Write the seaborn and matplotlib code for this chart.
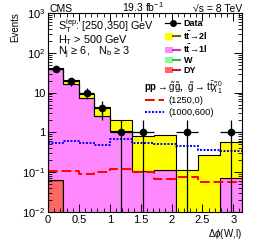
import numpy as np
import pandas as pd
import seaborn as sns
import matplotlib
matplotlib.use("Agg")
import matplotlib.pyplot as plt
from matplotlib.patches import Patch
from matplotlib.lines import Line2D
from matplotlib.legend_handler import HandlerTuple
from matplotlib.ticker import FixedLocator, LogLocator, NullFormatter, MultipleLocator

# === data ===
bin_edges = [0.0, 0.25, 0.5, 0.75, 1.0, 1.357, 1.714, 2.071, 2.428, 2.785, 3.1416]
n_data = [39, 19, 10, 4, 1, 1, 0, 1, 0, 1]
tt2l = [2.0, 4.3, 1.9, 1.7, 0.9, 0.72, 0.75, 0.11, 0.27, 0.49]
tt1l = [39.9, 16.4, 7.2, 2.6, 1.1, 0.105, 0.11, 0.0, 0.0, 0.07]
wjets = [0.0, 0.0, 0.0, 0.0, 0.0, 0.0, 0.0, 0.0, 0.0, 0.0]
dy = [0.065, 0.0, 0.0, 0.0, 0.0, 0.0, 0.0, 0.0, 0.0, 0.0]
sig_1250_0 = [0.105, 0.105, 0.09, 0.1, 0.118, 0.098, 0.066, 0.077, 0.058, 0.055]
sig_1000_600 = [0.54, 0.6, 0.54, 0.49, 0.69, 0.55, 0.5, 0.46, 0.37, 0.34]

processes = ["tt2l", "tt1l", "W", "DY"]
labels = {"tt2l": r"$\mathbf{t\bar{t}\!\rightarrow\!2l}$",
          "tt1l": r"$\mathbf{t\bar{t}\!\rightarrow\!1l}$",
          "W": "W", "DY": "DY"}
fill_colors = {"tt2l": "#ffff00", "tt1l": "#ff88ff", "W": "#88ff88", "DY": "#ff6666"}
line_colors = {"tt2l": "#6b6b00", "tt1l": "#b040b0", "W": "#40b040", "DY": "#c02020"}

edges = np.array(bin_edges)
centers = 0.5 * (edges[1:] + edges[:-1])
halfw = 0.5 * (edges[1:] - edges[:-1])

bkg = pd.DataFrame({
    "dphi": np.tile(centers, 4),
    "events": np.concatenate([tt2l, tt1l, wjets, dy]),
    "process": np.repeat(processes, len(centers)),
})

plt.rcParams["font.family"] = ["Liberation Sans", "DejaVu Sans"]
plt.rcParams["mathtext.fontset"] = "custom"
plt.rcParams["mathtext.rm"] = "Liberation Sans"
plt.rcParams["mathtext.it"] = "Liberation Sans:italic"
plt.rcParams["mathtext.bf"] = "Liberation Sans:bold"

fig = plt.figure(figsize=(2.58, 2.45), dpi=100)
ax = fig.add_axes([0.186, 0.135, 0.752, 0.812])
ax.set_yscale("log")

# stacked backgrounds (first hue level ends up on top)
sns.histplot(data=bkg, x="dphi", weights="events", hue="process",
             hue_order=processes, bins=bin_edges, multiple="stack",
             element="step", palette=fill_colors, alpha=1,
             edgecolor="black", linewidth=0.8, legend=False, ax=ax)

# signal points
sig = pd.DataFrame({"dphi": centers, "a": sig_1250_0, "b": sig_1000_600})
sns.histplot(data=sig, x="dphi", weights="a", bins=bin_edges, element="step",
             fill=False, color="red", linewidth=1.4, linestyle=(0, (5, 2)), ax=ax)
sns.histplot(data=sig, x="dphi", weights="b", bins=bin_edges, element="step",
             fill=False, color="blue", linewidth=1.4, linestyle=(0, (1, 0.8)), ax=ax)

# data
nd = np.array(n_data, dtype=float)
mask = nd > 0
ax.errorbar(centers[mask], nd[mask], xerr=halfw[mask], yerr=np.sqrt(nd[mask]),
            fmt="o", color="black", ms=4.5, lw=0.9, capsize=0)

ax.set_xlim(0, np.pi)
ax.set_ylim(1e-2, 1e3)
ax.set_xlabel("")
ax.set_ylabel("")
ax.xaxis.set_minor_locator(MultipleLocator(0.1))
ax.set_xticks([0, 0.5, 1, 1.5, 2, 2.5, 3])
ax.set_xticklabels(["0", "0.5", "1", "1.5", "2", "2.5", "3"])
ax.yaxis.set_major_locator(FixedLocator([1e-2, 1e-1, 1, 10, 1e2, 1e3]))
ax.set_yticklabels([r"$10^{-2}$", r"$10^{-1}$", "1", "10", r"$10^{2}$", r"$10^{3}$"])
ax.yaxis.set_minor_locator(LogLocator(base=10, subs=np.arange(2, 10)))
ax.yaxis.set_minor_formatter(NullFormatter())
ax.tick_params(which="both", direction="in", top=True, right=True, labelsize=8, pad=2)
ax.tick_params(which="major", length=6, width=0.7)
ax.tick_params(which="minor", length=3, width=0.6)
for s in ax.spines.values():
    s.set_linewidth(0.8)

# axis titles
fig.text(0.938, 0.015, r"$\Delta\phi$(W,l)", ha="right", va="bottom", fontsize=7)
fig.text(0.04, 0.95, "Events", ha="left", va="top", rotation=90, fontsize=7)

# header
fig.text(0.19, 0.952, "CMS", ha="left", va="baseline", fontsize=7.5)
fig.text(0.555, 0.952, r"19.3 fb$^{-1}$", ha="center", va="baseline", fontsize=7.5)
fig.text(0.938, 0.952, "√s = 8 TeV", ha="right", va="baseline", fontsize=7.5)

# selection text
ax.text(0.052, 0.935, r"S$_\mathrm{T}^\mathrm{lep}$: [250,350] GeV", transform=ax.transAxes,
        ha="left", va="center", fontsize=7.8)
ax.text(0.052, 0.866, r"H$_\mathrm{T}$ > 500 GeV", transform=ax.transAxes,
        ha="left", va="center", fontsize=7.8)
ax.text(0.052, 0.798, r"N$_\mathrm{j}$ ≥ 6,   N$_\mathrm{b}$ ≥ 3", transform=ax.transAxes,
        ha="left", va="center", fontsize=7.8)

# background legend
handles = [Line2D([], [], color="black", marker="o", ms=4, lw=0.9)]
for p in processes:
    handles.append((Patch(facecolor=fill_colors[p], edgecolor="none"),
                    Line2D([], [], color=line_colors[p], lw=1.5)))
leg1 = ax.legend(handles, ["Data"] + [labels[p] for p in processes],
                 handler_map={tuple: HandlerTuple(ndivide=None)},
                 loc="upper left", bbox_to_anchor=(0.603, 0.968), frameon=False,
                 prop={"size": 6.5, "weight": "bold"}, handlelength=1.7,
                 handleheight=0.7, labelspacing=0.14, handletextpad=0.35,
                 borderaxespad=0, borderpad=0)
ax.add_artist(leg1)

ax.text(0.495, 0.623, r"pp$\rightarrow\tilde{\mathrm{g}}\tilde{\mathrm{g}}$,  $\tilde{\mathrm{g}}\rightarrow\mathrm{t\bar{t}}\tilde{\chi}^0_1$",
        transform=ax.transAxes, ha="left", va="center", fontsize=7, fontweight="bold")
sig_handles = [Line2D([], [], color="red", lw=1.4, linestyle=(0, (5, 2))),
               Line2D([], [], color="blue", lw=1.4, linestyle=(0, (1, 0.8)))]
ax.legend(sig_handles, ["(1250,0)", "(1000,600)"], loc="upper left",
          bbox_to_anchor=(0.5, 0.582), frameon=False, fontsize=6.7,
          handlelength=2.0, labelspacing=0.3, handletextpad=0.55,
          borderaxespad=0, borderpad=0)

fig.savefig("out.png", dpi=100)
